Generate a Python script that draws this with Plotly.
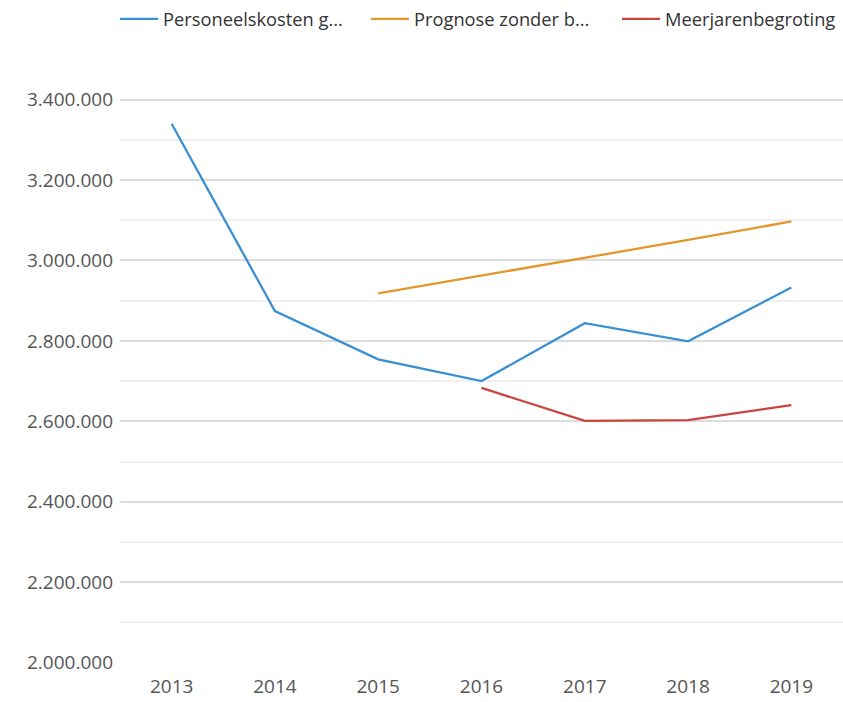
import plotly.graph_objects as go

years = ["2013", "2014", "2015", "2016", "2017", "2018", "2019"]
personeel = [3340000, 2874000, 2754000, 2700000, 2844000, 2799000, 2933000]
prognose = [None, None, 2918000, 2962000, 3006000, 3051000, 3097000]
meerjaren = [None, None, None, 2683000, 2601000, 2603000, 2640000]
names = ["Personeelskosten g...", "Prognose zonder b...", "Meerjarenbegroting"]
colors = ["#3a8fd4", "#e3962c", "#cc433d"]
series = [personeel, prognose, meerjaren]
legend_ids = ["legend", "legend2", "legend3"]

fig = go.Figure()
for s, n, c, lg in zip(series, names, colors, legend_ids):
    fig.add_trace(go.Scatter(x=years, y=s, name=n, mode="lines",
                             line=dict(color=c, width=2.3), legend=lg,
                             showlegend=True, connectgaps=False))

font = dict(family="Open Sans", size=18.3, color="#333333")
leg_x = [115, 366, 617]
W, H = 843, 702
ml, mr, mt, mb = 120, 0, 59, 39
leg_common = dict(orientation="h", xanchor="left", yanchor="middle",
                  xref="container", yref="container", y=1 - 19 / H, font=font,
                  bgcolor="rgba(0,0,0,0)", itemwidth=38)
layout_legends = {}
for lg, xp in zip(legend_ids, leg_x):
    layout_legends[lg] = dict(leg_common, x=xp / W)

tf = dict(family="Open Sans", size=19, color="#555555")
fig.update_layout(
    width=W, height=H,
    showlegend=True,
    margin=dict(l=ml, r=mr, t=mt, b=mb, autoexpand=False),
    plot_bgcolor="white", paper_bgcolor="white",
    separators=",.",
    font=tf,
    xaxis=dict(showgrid=False, showline=False, zeroline=False, ticks="",
               range=[-0.5, 6.5], tickfont=tf, ticklabelstandoff=10),
    yaxis=dict(range=[1999000, 3501000], dtick=200000, tick0=2000000,
               tickformat=",d", showgrid=True, gridcolor="#dcdcdc", gridwidth=1.5,
               zeroline=False, showline=False, ticks="",
               tickfont=tf, ticklabelstandoff=6,
               minor=dict(dtick=100000, tick0=2000000, showgrid=True,
                          gridcolor="#f0f0f0", gridwidth=1.5)),
    **layout_legends,
)

fig.write_html("out.html", config={"displayModeBar": False},
               post_script="document.body.style.margin='0';document.body.style.overflow='hidden';")
